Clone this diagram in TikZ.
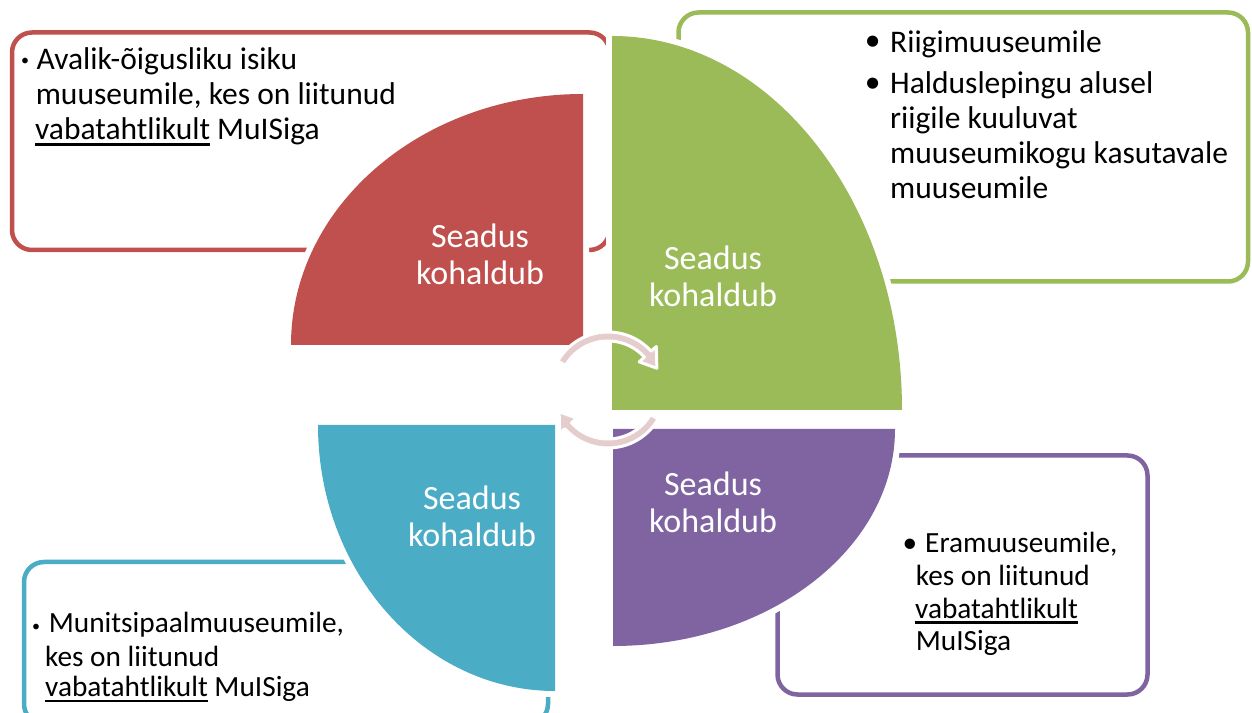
\documentclass[tikz,border=0pt]{standalone}
\usepackage{fontspec}
\setmainfont{Carlito}
\definecolor{cred}{HTML}{C0504D}
\definecolor{cgreen}{HTML}{9BBB59}
\definecolor{cpurple}{HTML}{8064A2}
\definecolor{cblue}{HTML}{4BACC6}
\definecolor{cpink}{RGB}{230,205,205}
\newcommand\myul[1]{\setbox0=\hbox{#1}\rlap{\rule[-0.19em]{\wd0}{0.08em}}\box0\relax}
\begin{document}
\begin{tikzpicture}[x=1pt,y=1pt,
  box/.style={draw, line width=4.5pt, rounded corners=20pt},
  quarter/.style={preaction={draw=white, line width=12pt}},
  lbl/.style={text=white, font=\fontsize{34}{34}\selectfont, inner sep=0pt, anchor=base},
  txt/.style={inner sep=0pt, anchor=base west, font=\fontsize{31.5}{35}\selectfont},
  txts/.style={inner sep=0pt, anchor=base west, font=\fontsize{29.3}{32}\selectfont},
  bulbig/.style={inner sep=0pt, anchor=center, font=\fontsize{31.5}{35}\selectfont},
  bulmid/.style={inner sep=0pt, anchor=center, font=\fontsize{29.3}{32}\selectfont},
  bulsmall/.style={inner sep=0pt, anchor=center, font=\fontsize{16}{16}\selectfont},
  cyc/.style={fill=cpink, draw=white, line width=3pt, line join=round}]
\useasboundingbox (0,0) rectangle (1252,712);
\clip (0,0) rectangle (1252,712);
\fill[white] (0,0) rectangle (1252,712);

% text boxes
\draw[box, draw=cred]    (12,679.5) rectangle (609.5,462);
\draw[box, draw=cgreen]  (678.5,699.5) rectangle (1248,430.5);
\draw[box, draw=cpurple] (777.5,256.5) rectangle (1147.5,17.5);
\draw[box, draw=cblue]   (24,150) rectangle (548,-12);

% quarter shapes
\fill[cred, quarter] (583,367) -- (291,367) arc[start angle=180, end angle=90, x radius=292, y radius=251] -- cycle;
\fill[cgreen, quarter] (612,302) -- (902,302) arc[start angle=0, end angle=90, x radius=290, y radius=374] -- cycle;
\fill[cpurple, quarter] (613,283) -- (895,283) arc[start angle=0, end angle=-90, x radius=282, y radius=217] -- cycle;
\fill[cblue, quarter] (555,287) -- (318,287) arc[start angle=180, end angle=270, x radius=237, y radius=266] -- cycle;

% quarter labels
\node[lbl] (rs) at (480,464) {Seadus};
\node[lbl] (rk) at (480,427) {kohaldub};
\node[lbl] (gs) at (713,442) {Seadus};
\node[lbl] (gk) at (713,405) {kohaldub};
\node[lbl] (ps) at (713,216) {Seadus};
\node[lbl] (pk) at (713,179) {kohaldub};
\node[lbl] (bs) at (472,202) {Seadus};
\node[lbl] (bk) at (472,165) {kohaldub};

% cycle arrows
\begin{scope}[shift={(608,322)}]
\draw[cyc] (150:58) arc[start angle=150, end angle=42, radius=58]
  -- (42:65) -- (24:53.5) -- (42:42) -- (42:49)
  arc[start angle=42, end angle=150, radius=49] -- cycle;
\draw[cyc] (-30:58) arc[start angle=-30, end angle=-138, radius=58]
  -- (-138:65) -- (-156:53.5) -- (-138:42) -- (-138:49)
  arc[start angle=-138, end angle=-30, radius=49] -- cycle;
\end{scope}

% red box text
\node[bulsmall] (rb) at (25,650) {•};
\node[txt] (r1) at (36.4,642) {Avalik-õigusliku isiku};
\node[txt] (r2) at (35.6,607) {muuseumile, kes on liitunud};
\node[txt] (r3) at (35,572) {\myul{vabatahtlikult} MuISiga};

% green box text
\node[bulbig] (gb1) at (872.6,669) {•};
\node[txt] (g1) at (890,659) {Riigimuuseumile};
\node[bulbig] (gb2) at (872.6,627) {•};
\node[txt] (g2) at (890,618) {Halduslepingu alusel};
\node[txt] (g3) at (890,583) {riigile kuuluvat};
\node[txt] (g4) at (890,548) {muuseumikogu kasutavale};
\node[txt] (g5) at (890,513) {muuseumile};

% purple box text
\node[bulmid] (pb) at (910,166) {•};
\node[txts] (p1) at (925,159) {Eramuuseumile,};
\node[txts] (p2) at (915.7,126.5) {kes on liitunud};
\node[txts] (p3) at (915,94) {\myul{vabatahtlikult}};
\node[txts] (p4) at (915.7,61.5) {MuISiga};

% blue box text
\node[bulsmall] (bb) at (36,84.5) {•};
\node[txts] (b1) at (48.7,79.3) {Munitsipaalmuuseumile,};
\node[txts] (b2) at (45,45.3) {kes on liitunud};
\node[txts] (b3) at (45,15.3) {\myul{vabatahtlikult} MuISiga};
\end{tikzpicture}
\end{document}
